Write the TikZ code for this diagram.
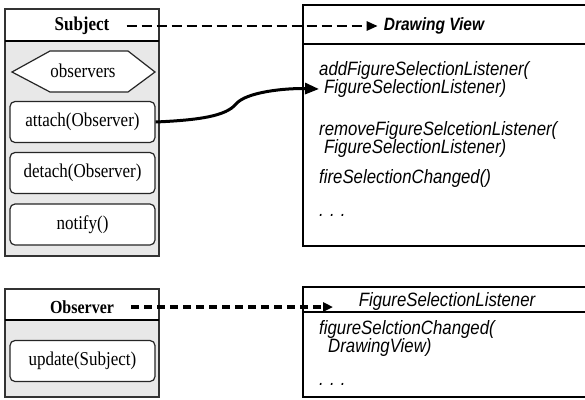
\documentclass[tikz,border=0pt]{standalone}
\usepackage{fontspec}
\usepackage{graphicx}
\setmainfont{Liberation Serif}
\newfontfamily\arialfont{Liberation Sans}
\usetikzlibrary{arrows.meta}

\newcommand{\tall}[1]{\scalebox{1}[1.15]{#1}}

\tikzset{
  classbody/.style={draw=black!80, line width=1.4pt, fill=black!9},
  classhead/.style={draw=black!80, line width=1.4pt, fill=white},
  viewbody/.style={draw=black, line width=1.4pt, fill=white},
  sepline/.style={line width=2.4pt},
  attrbox/.style={draw=black!85, line width=1.2pt, fill=white},
  opbox/.style={draw=black!85, line width=1.2pt, fill=white, rounded corners=5pt,
    minimum width=145pt, minimum height=41pt, inner sep=0pt,
    font=\fontsize{17}{20}\selectfont},
  serift/.style={inner sep=1pt, font=\fontsize{17}{20}\selectfont},
  sanst/.style={anchor=west, inner sep=1pt, font=\arialfont\itshape\fontsize{16.8}{20}\selectfont},
  depA/.style={line width=2.5pt, dash pattern=on 10pt off 5pt,
    -{Triangle[length=11pt, width=9pt]}},
  depB/.style={line width=3.5pt, dash pattern=on 8pt off 5pt,
    -{Triangle[length=10pt, width=9pt]}},
  assoc/.style={line width=3pt, -{Triangle[length=14pt, width=11pt]}}
}

\begin{document}
\begin{tikzpicture}[x=1pt, y=-1pt]
\useasboundingbox (0,0) rectangle (585,399);

% Subject
\draw[classbody] (5,9) rectangle (159,256);
\draw[classhead] (5,9) rectangle (159,41);
\draw[sepline] (5,41) -- (159,41);
\node[serift, font=\bfseries\fontsize{17}{20}\selectfont] (subj) at (82,26) {\tall{Subject}};

\draw[attrbox] (12,72) -- (50,51) -- (128,51) -- (155,72) -- (128,92) -- (50,92) -- cycle;
\node[serift] (obsv) at (83,71) {\tall{observers}};

\node[opbox] (attach) at (82.5,122) {\tall{attach(Observer)}};
\node[opbox] (detach) at (82.5,173) {\tall{detach(Observer)}};
\node[opbox] (notify) at (82.5,224.5) {\tall{notify()}};

% Drawing View
\draw[viewbody] (303,5) rectangle (600,246);
\draw[line width=2pt] (303,44) -- (600,44);
\node[sanst, anchor=center, font=\arialfont\bfseries\itshape\fontsize{15.5}{18}\selectfont] (dv) at (434,26) {\tall{Drawing View}};

\node[sanst] (adda) at (318,71)  {\tall{addFigureSelectionListener(}};
\node[sanst] (addb) at (323,89)  {\tall{FigureSelectionListener)}};
\node[sanst] (rema) at (318,131) {\tall{removeFigureSelcetionListener(}};
\node[sanst] (remb) at (323,149) {\tall{FigureSelectionListener)}};
\node[sanst] (fire) at (318,178) {\tall{fireSelectionChanged()}};
\node[sanst] (dvdots) at (318,215) {\tall{. . .}};

\draw[depA] ([xshift=16pt]subj.east) -- ([xshift=-5pt]dv.west);
\draw[assoc] (attach.east) .. controls (200,120) and (226,116) .. (236,104)
  .. controls (246,92) and (285,88) .. ([xshift=-4pt]addb.west);

% Observer
\draw[classbody] (5,289) rectangle (159,397);
\draw[classhead] (5,289) rectangle (159,320);
\draw[sepline] (5,320) -- (159,320);
\node[serift, font=\bfseries\fontsize{16}{19}\selectfont] (obs) at (82,307) {\tall{Observer}};
\node[opbox] (update) at (82.5,361) {\tall{update(Subject)}};

% FigureSelectionListener
\draw[viewbody] (303,287) rectangle (600,397);
\draw[line width=2pt] (303,312) -- (600,312);
\node[sanst, anchor=center] (fsl) at (447,301) {\tall{FigureSelectionListener}};
\node[sanst] (fsca) at (318,329) {\tall{figureSelctionChanged(}};
\node[sanst] (fscb) at (327,347) {\tall{DrawingView)}};
\node[sanst] (fsdots) at (318,384) {\tall{. . .}};

\draw[depB] ([xshift=16pt]obs.east) -- (obs.east -| 333,0);
\end{tikzpicture}
\end{document}
